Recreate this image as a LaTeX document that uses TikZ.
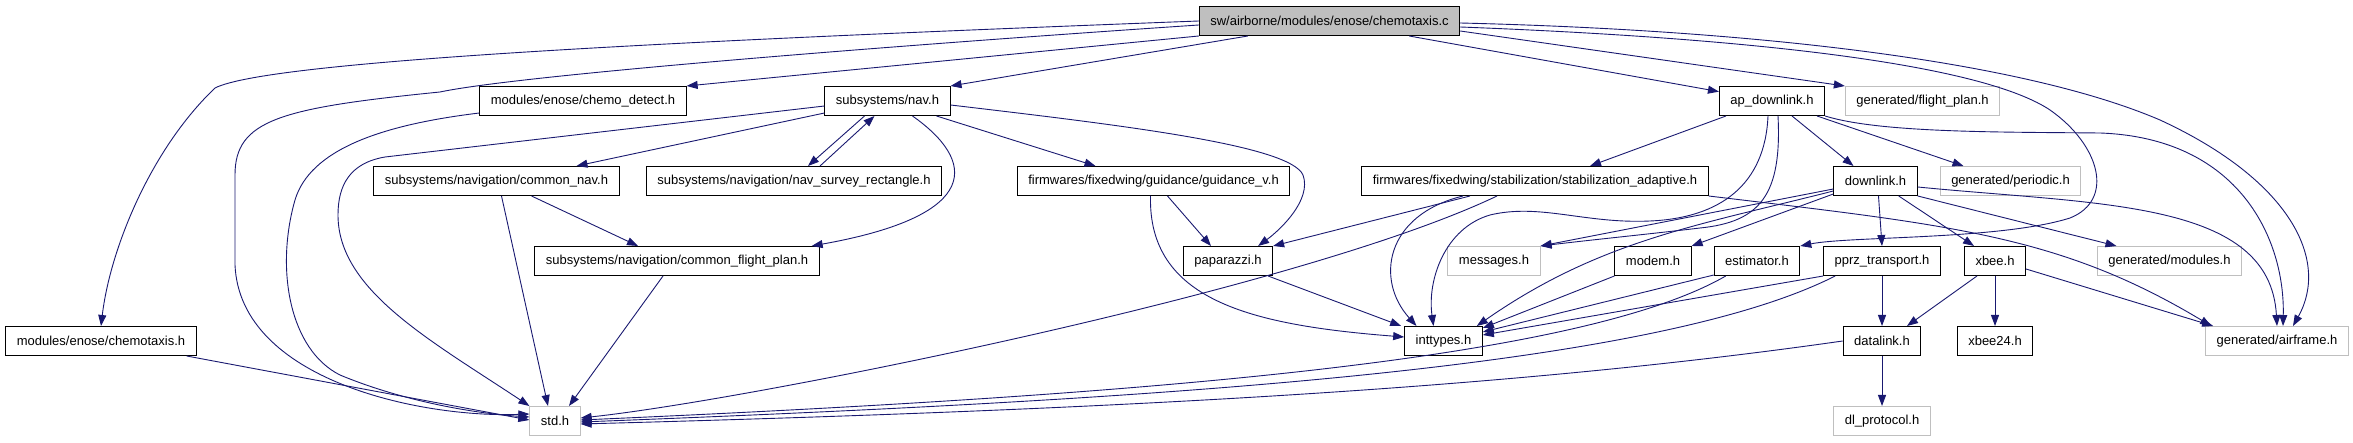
\documentclass[tikz,border=0pt]{standalone}
\usepackage{fontspec}
\setmainfont{Liberation Sans}
\usepackage{xcolor}
\usepackage{tikz}
\usetikzlibrary{arrows.meta,calc}
\definecolor{edgeblue}{HTML}{191970}
\definecolor{boxgray}{HTML}{BFBFBF}

\begin{document}
\begin{tikzpicture}[x=1pt,y=-1pt,>={Triangle[length=11pt,width=8pt]},
    hdr/.style={draw=black,line width=1pt,fill=white,inner xsep=11pt,inner ysep=0pt,
      minimum height=29pt,font=\fontsize{13}{15}\selectfont},
    gen/.style={hdr,draw=boxgray},
    src/.style={hdr,fill=boxgray},
    inc/.style={->,draw=edgeblue,line width=0.9pt}]
      \useasboundingbox (0,0) rectangle (2353,443);
      % rank 1
      \node[src] (c) at (1329.5,21) {sw/airborne/modules/enose/chemotaxis.c};
      % rank 2
      \node[hdr] (detect) at (583,101) {modules/enose/chemo\_detect.h};
      \node[hdr] (nav) at (887.5,101) {subsystems/nav.h};
      \node[hdr] (apdl) at (1772,101) {ap\_downlink.h};
      \node[gen] (fplan) at (1922.5,101) {generated/flight\_plan.h};
      % rank 3
      \node[hdr] (cnav) at (496.5,181) {subsystems/navigation/common\_nav.h};
      \node[hdr] (survey) at (794,181) {subsystems/navigation/nav\_survey\_rectangle.h};
      \node[hdr] (guid) at (1153.5,181) {firmwares/fixedwing/guidance/guidance\_v.h};
      \node[hdr] (stab) at (1535,181) {firmwares/fixedwing/stabilization/stabilization\_adaptive.h};
      \node[hdr] (dl) at (1875.5,181) {downlink.h};
      \node[gen] (periodic) at (2010.5,181) {generated/periodic.h};
      % rank 4
      \node[hdr] (cfp) at (677,261) {subsystems/navigation/common\_flight\_plan.h};
      \node[hdr] (pap) at (1228,261) {paparazzi.h};
      \node[gen] (msg) at (1494,261) {messages.h};
      \node[hdr] (modem) at (1653,261) {modem.h};
      \node[hdr] (est) at (1757,261) {estimator.h};
      \node[hdr] (pprz) at (1882,261) {pprz\_transport.h};
      \node[hdr] (xbee) at (1995,261) {xbee.h};
      \node[gen] (mods) at (2169.5,261) {generated/modules.h};
      % rank 5
      \node[hdr] (taxis) at (101,341) {modules/enose/chemotaxis.h};
      \node[hdr] (inttypes) at (1443.5,341) {inttypes.h};
      \node[hdr] (dlink) at (1882,341) {datalink.h};
      \node[hdr] (xbee24) at (1995,341) {xbee24.h};
      \node[gen] (airframe) at (2277,341) {generated/airframe.h};
      % rank 6
      \node[gen] (std) at (555,421) {std.h};
      \node[gen] (proto) at (1882,421) {dl\_protocol.h};

      % includes of chemotaxis.c
      \draw[inc] (c.west) .. controls (700,40) and (270,60) .. (215,88) .. controls (150,150) and (110,250) .. (taxis.north);
      \draw[inc] ($(c.west)+(0,4)$) .. controls (900,45) and (520,75) .. (440,92) .. controls (280,108) and (235,120) .. (235,175) -- (235,265) .. controls (240,380) and (420,418) .. ($(std.west)+(0,-7)$);
      \draw[inc] (c.south west) -- (detect.north east);
      \draw[inc] ($(c.south west)+(49,0)$) -- (nav.north east);
      \draw[inc] ($(c.south east)+(-51,0)$) -- (apdl.170);
      \draw[inc] ($(c.east)+(0,10)$) -- (fplan.north west);
      \draw[inc] ($(c.east)+(0,6)$) .. controls (1800,40) and (1990,70) .. (2050,110) .. controls (2100,145) and (2115,200) .. (2070,218) .. controls (2000,240) and (1850,236) .. (est.north east);
      \draw[inc] ($(c.east)+(0,2)$) .. controls (1750,30) and (2020,60) .. (2160,120) .. controls (2290,180) and (2330,260) .. ($(airframe.north)+(16,0)$);

      % subsystems/nav.h
      \draw[inc] ($(nav.west)+(0,5)$) -- (385,157) .. controls (350,163) and (338,185) .. (338,215) .. controls (338,290) and (430,340) .. (std.north west);
      \draw[inc] ($(nav.south west)+(0,-3)$) -- ($(cnav.north)+(80,0)$);
      \draw[inc] ($(nav.south)+(-23,0)$) -- ($(survey.north)+(14,0)$);
      \draw[inc] ($(survey.north)+(26,0)$) -- ($(nav.south)+(-13,0)$);
      \draw[inc] ($(nav.south)+(25,0)$) .. controls (975,160) and (985,215) .. ($(cfp.north east)+(-8,0)$);
      \draw[inc] ($(nav.south east)+(-14,0)$) -- ($(guid.north)+(-58,0)$);
      \draw[inc] ($(nav.east)+(0,4)$) .. controls (1120,125) and (1290,145) .. (1303,175) .. controls (1312,200) and (1280,230) .. ($(pap.north east)+(-15,0)$);

      % navigation headers, chemo headers
      \draw[inc] ($(cnav.south)+(5,0)$) -- ($(std.north)+(-7,0)$);
      \draw[inc] ($(cnav.south)+(35,0)$) -- ($(cfp.north)+(-39,0)$);
      \draw[inc] ($(cfp.south)+(-14,0)$) -- ($(std.north)+(14,0)$);
      \draw[inc] ($(detect.west)+(0,12)$) .. controls (380,125) and (310,150) .. (295,200) .. controls (275,270) and (290,350) .. (340,375) .. controls (400,400) and (470,413) .. ($(std.west)+(0,-4)$);
      \draw[inc] ($(taxis.south east)+(-10,0)$) -- ($(std.west)+(0,-1)$);

      % fixedwing headers
      \draw[inc] ($(guid.south)+(14,0)$) -- ($(pap.north)+(-17,0)$);
      \draw[inc] ($(guid.south)+(-3,0)$) .. controls (1148,300) and (1250,325) .. ($(inttypes.west)+(0,-4)$);
      \draw[inc] ($(pap.south east)+(-5,0)$) -- ($(inttypes.north west)+(-3,0)$);
      \draw[inc] ($(stab.south)+(-65,0)$) -- (pap.north east);
      \draw[inc] ($(stab.south)+(-38,0)$) .. controls (1300,290) and (750,400) .. ($(std.east)+(0,-3)$);
      \draw[inc] ($(stab.south)+(-72,0)$) .. controls (1385,215) and (1375,280) .. ($(inttypes.north)+(-27,0)$);
      \draw[inc] (stab.south east) .. controls (1950,225) and (2060,235) .. ($(airframe.north west)+(6,0)$);

      % ap_downlink.h
      \draw[inc] ($(apdl.south west)+(7,0)$) -- ($(stab.north)+(55,0)$);
      \draw[inc] ($(apdl.south)+(-4,0)$) .. controls (1765,185) and (1720,218) .. (1650,221) .. controls (1585,224) and (1540,203) .. (1490,215) .. controls (1445,228) and (1427,280) .. ($(inttypes.north)+(-10,0)$);
      \draw[inc] ($(apdl.south)+(6,0)$) .. controls (1782,195) and (1760,222) .. (1700,228) .. controls (1650,234) and (1590,240) .. (msg.north east);
      \draw[inc] ($(apdl.south)+(20,0)$) -- ($(dl.north)+(-22,0)$);
      \draw[inc] ($(apdl.south east)+(-8,0)$) -- ($(periodic.north)+(-47,0)$);
      \draw[inc] (apdl.south east) .. controls (1880,133) and (2000,132) .. (2100,133) .. controls (2240,138) and (2285,240) .. ($(airframe.north)+(6,0)$);

      % downlink.h
      \draw[inc] ($(dl.west)+(0,8)$) -- (msg.north east);
      \draw[inc] ($(dl.west)+(0,10)$) .. controls (1700,225) and (1600,240) .. ($(inttypes.north east)+(-6,0)$);
      \draw[inc] ($(dl.west)+(0,13)$) -- (modem.north east);
      \draw[inc] ($(dl.south)+(3,0)$) -- (pprz.north);
      \draw[inc] ($(dl.south east)+(-19,0)$) -- ($(xbee.north)+(-21,0)$);
      \draw[inc] (dl.south east) -- ($(mods.north)+(-53,0)$);
      \draw[inc] ($(dl.east)+(0,6)$) .. controls (2100,205) and (2270,200) .. (airframe.north);

      % transport layer
      \draw[inc] (modem.south west) -- ($(inttypes.east)+(0,-13)$);
      \draw[inc] ($(est.south west)+(0,-1)$) -- ($(inttypes.east)+(0,-9)$);
      \draw[inc] ($(est.south west)+(12,0)$) .. controls (1580,360) and (1150,395) .. ($(std.east)+(0,-1)$);
      \draw[inc] (pprz.south west) -- ($(inttypes.east)+(0,-6)$);
      \draw[inc] ($(pprz.south west)+(12,0)$) .. controls (1650,370) and (1150,400) .. ($(std.east)+(0,1)$);
      \draw[inc] (pprz.south) -- (dlink.north);
      \draw[inc] ($(xbee.south)+(-18,0)$) -- ($(dlink.north)+(25,0)$);
      \draw[inc] (xbee.south) -- (xbee24.north);
      \draw[inc] ($(xbee.east)+(0,8)$) -- ($(airframe.north west)+(8,0)$);
      \draw[inc] (dlink.south) -- (proto.north);
      \draw[inc] (dlink.west) .. controls (1500,390) and (1100,410) .. ($(std.east)+(0,3)$);
    \end{tikzpicture}
\end{document}
